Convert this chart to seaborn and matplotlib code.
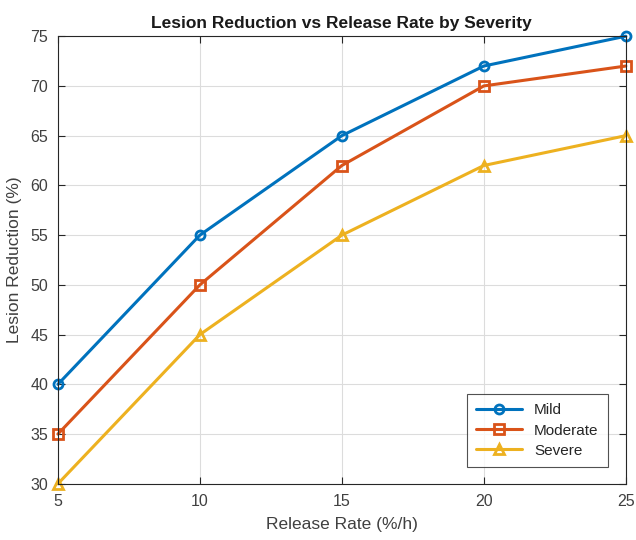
import matplotlib
matplotlib.use("Agg")
import matplotlib.pyplot as plt
import seaborn as sns
import pandas as pd

release_rate = [5, 10, 15, 20, 25]
mild = [40, 55, 65, 72, 75]
moderate = [35, 50, 62, 70, 72]
severe = [30, 45, 55, 62, 65]
series_names = ["Mild", "Moderate", "Severe"]
colors = ["#0072BD", "#D95319", "#EDB120"]
markers = ["o", "s", "^"]

sns.set_style("white")
plt.rcParams['font.family'] = ['Liberation Sans', 'DejaVu Sans']

df = pd.DataFrame({
    "Release Rate": release_rate * 3,
    "Reduction": mild + moderate + severe,
    "Severity": sum([[n] * len(release_rate) for n in series_names], []),
})

fig = plt.figure(figsize=(6.36, 5.40), dpi=100)
ax = fig.add_axes([0.091, 0.104, 0.893, 0.829])

for name, c, m in zip(series_names, colors, markers):
    sub = df[df["Severity"] == name]
    sns.lineplot(data=sub, x="Release Rate", y="Reduction", ax=ax, color=c,
                 marker=m, markersize=6.5, markerfacecolor="none",
                 markeredgecolor=c, markeredgewidth=2, linewidth=2.2,
                 label=name, clip_on=False)

ax.set_xlim(5, 25)
ax.set_ylim(30, 75)
ax.set_xticks(release_rate)
ax.set_yticks(range(30, 76, 5))
ax.grid(True, color="#dcdcdc", linewidth=0.8)
ax.tick_params(direction="in", length=5, colors="#262626", labelsize=11.5,
               top=True, right=True, bottom=True, left=True, labelcolor="#404040")
ax.tick_params(axis="y", pad=7)
ax.tick_params(axis="x", pad=7)
for s in ax.spines.values():
    s.set_visible(True)
    s.set_color("#262626")
    s.set_linewidth(0.8)
ax.set_xlabel("Release Rate (%/h)", fontsize=12.5, color="#404040", labelpad=6)
ax.set_ylabel("Lesion Reduction (%)", fontsize=12.5, color="#404040", labelpad=6)
ax.set_title("Lesion Reduction vs Release Rate by Severity", fontsize=12.5,
             fontweight="bold", color="#1a1a1a", pad=6)
leg = ax.legend(loc="lower right", bbox_to_anchor=(0.968, 0.038), borderaxespad=0,
                fontsize=11, frameon=True, fancybox=False, edgecolor="#262626",
                handlelength=3.0, borderpad=0.6, labelspacing=0.4)
leg.get_frame().set_linewidth(0.8)

fig.savefig("out.png", dpi=100)
